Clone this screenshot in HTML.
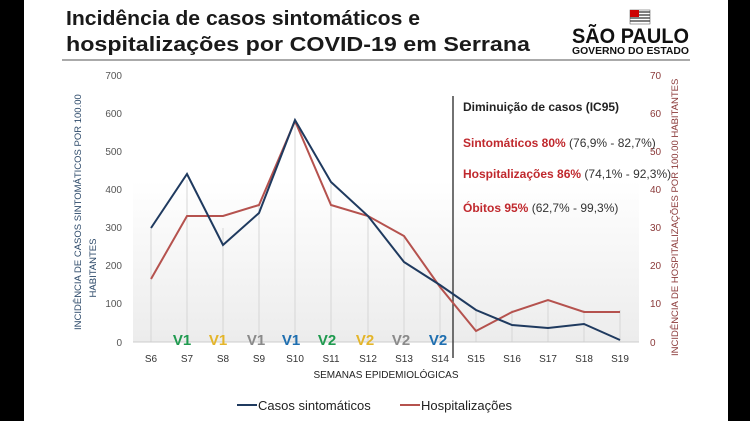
<!DOCTYPE html>
<html><head><meta charset="utf-8"><style>
body{margin:0;background:#000;}
svg{display:block;font-family:"Liberation Sans",sans-serif;}
</style></head><body>
<svg width="750" height="421" viewBox="0 0 750 421" xmlns="http://www.w3.org/2000/svg">
<rect x="0" y="0" width="750" height="421" fill="#000"/>
<rect x="24" y="0" width="704" height="421" fill="#fff"/>
<defs><linearGradient id="g" x1="0" y1="0" x2="0" y2="1"><stop offset="0" stop-color="#fff"/><stop offset="1" stop-color="#ececec"/></linearGradient></defs>
<rect x="133" y="180" width="506" height="162" fill="url(#g)"/>
<text x="66" y="25" font-size="20" font-weight="bold" fill="#1a1a1a" textLength="354" lengthAdjust="spacingAndGlyphs">Incidência de casos sintomáticos e</text>
<text x="66" y="51" font-size="20" font-weight="bold" fill="#1a1a1a" textLength="464" lengthAdjust="spacingAndGlyphs">hospitalizações por COVID-19 em Serrana</text>
<line x1="62" y1="60" x2="690" y2="60" stroke="#555" stroke-width="1"/>
<g transform="translate(630,10)"><rect x="0" y="0" width="20" height="14" fill="#fff" stroke="#444" stroke-width="0.5"/><path d="M0 2h20M0 5h20M0 8h20M0 11h20" stroke="#333" stroke-width="1.2"/><rect x="0" y="0" width="9" height="7" fill="#c00"/></g>
<text x="572" y="43" font-size="21" font-weight="bold" fill="#111" textLength="117" lengthAdjust="spacingAndGlyphs">SÃO PAULO</text>
<text x="572" y="54" font-size="10" font-weight="bold" fill="#111" textLength="117" lengthAdjust="spacingAndGlyphs">GOVERNO DO ESTADO</text>
<g stroke="#d6d6d6" stroke-width="1">
<line x1="151" y1="228" x2="151" y2="342"/><line x1="187" y1="180" x2="187" y2="342"/><line x1="223" y1="228" x2="223" y2="342"/><line x1="259" y1="205" x2="259" y2="342"/><line x1="295" y1="120" x2="295" y2="342"/><line x1="331" y1="182" x2="331" y2="342"/><line x1="368" y1="215" x2="368" y2="342"/><line x1="404" y1="236" x2="404" y2="342"/><line x1="440" y1="284" x2="440" y2="342"/><line x1="476" y1="310" x2="476" y2="342"/><line x1="512" y1="310" x2="512" y2="342"/><line x1="548" y1="300" x2="548" y2="342"/><line x1="584" y1="310" x2="584" y2="342"/><line x1="620" y1="310" x2="620" y2="342"/>
</g>
<line x1="133" y1="342" x2="639" y2="342" stroke="#ccc"/>
<g font-size="10" fill="#555" text-anchor="end">
<text x="122" y="79">700</text><text x="122" y="117">600</text><text x="122" y="155">500</text><text x="122" y="193">400</text><text x="122" y="231">300</text><text x="122" y="269">200</text><text x="122" y="307">100</text><text x="122" y="346">0</text></g>
<g font-size="10" fill="#8b3a3a">
<text x="650" y="79">70</text><text x="650" y="117">60</text><text x="650" y="155">50</text><text x="650" y="193">40</text><text x="650" y="231">30</text><text x="650" y="269">20</text><text x="650" y="307">10</text><text x="650" y="346">0</text></g>
<text transform="translate(81,330) rotate(-90)" font-size="9.5" fill="#2d4a6a">INCIDÊNCIA DE CASOS SINTOMÁTICOS  POR 100.00</text>
<text transform="translate(96,268) rotate(-90)" font-size="9.5" fill="#2d4a6a" text-anchor="middle">HABITANTES</text>
<text transform="translate(678,356) rotate(-90)" font-size="9.5" fill="#8b3a3a">INCIDÊNCIA DE HOSPITALIZAÇÕES POR 100.00 HABITANTES</text>
<g font-size="10" fill="#333" text-anchor="middle">
<text x="151" y="362">S6</text><text x="187" y="362">S7</text><text x="223" y="362">S8</text><text x="259" y="362">S9</text><text x="295" y="362">S10</text><text x="331" y="362">S11</text><text x="368" y="362">S12</text><text x="404" y="362">S13</text><text x="440" y="362">S14</text><text x="476" y="362">S15</text><text x="512" y="362">S16</text><text x="548" y="362">S17</text><text x="584" y="362">S18</text><text x="620" y="362">S19</text></g>
<text x="386" y="378" font-size="10" fill="#222" text-anchor="middle">SEMANAS EPIDEMIOLÓGICAS</text>
<g font-size="15" font-weight="bold" text-anchor="middle">
<text x="182" y="345" fill="#1f9a4f">V1</text><text x="218" y="345" fill="#e4b52a">V1</text><text x="256" y="345" fill="#8a8a8a">V1</text><text x="291" y="345" fill="#1f6fb0">V1</text><text x="327" y="345" fill="#1f9a4f">V2</text><text x="365" y="345" fill="#e4b52a">V2</text><text x="401" y="345" fill="#8a8a8a">V2</text><text x="438" y="345" fill="#1f6fb0">V2</text></g>
<line x1="453" y1="96" x2="453" y2="358" stroke="#444" stroke-width="1.5"/>
<polyline fill="none" stroke="#b5524e" stroke-width="2" points="151,279 187,216 223,216 259,205 295,121 331,205 368,216 404,236 440,287 476,331 512,312 548,300 584,312 620,312"/>
<polyline fill="none" stroke="#1f3a5f" stroke-width="2" points="151,228 187,174 223,245 259,213 295,120 331,182 368,216 404,262 440,285 476,310 512,325 548,328 584,324 620,340"/>
<g font-size="12">
<text x="463" y="111" font-weight="bold" fill="#222">Diminuição de casos (IC95)</text>
<text x="463" y="147" fill="#333"><tspan font-weight="bold" fill="#c0282d">Sintomáticos 80%</tspan> (76,9% - 82,7%)</text>
<text x="463" y="178" fill="#333"><tspan font-weight="bold" fill="#c0282d">Hospitalizações 86%</tspan> (74,1% - 92,3%)</text>
<text x="463" y="212" fill="#333"><tspan font-weight="bold" fill="#c0282d">Óbitos 95%</tspan> (62,7% - 99,3%)</text>
</g>
<line x1="237" y1="405" x2="257" y2="405" stroke="#1f3a5f" stroke-width="2"/>
<text x="258" y="410" font-size="13" fill="#222">Casos sintomáticos</text>
<line x1="400" y1="405" x2="420" y2="405" stroke="#b5524e" stroke-width="2"/>
<text x="421" y="410" font-size="13" fill="#222">Hospitalizações</text>
</svg>
</body></html>
